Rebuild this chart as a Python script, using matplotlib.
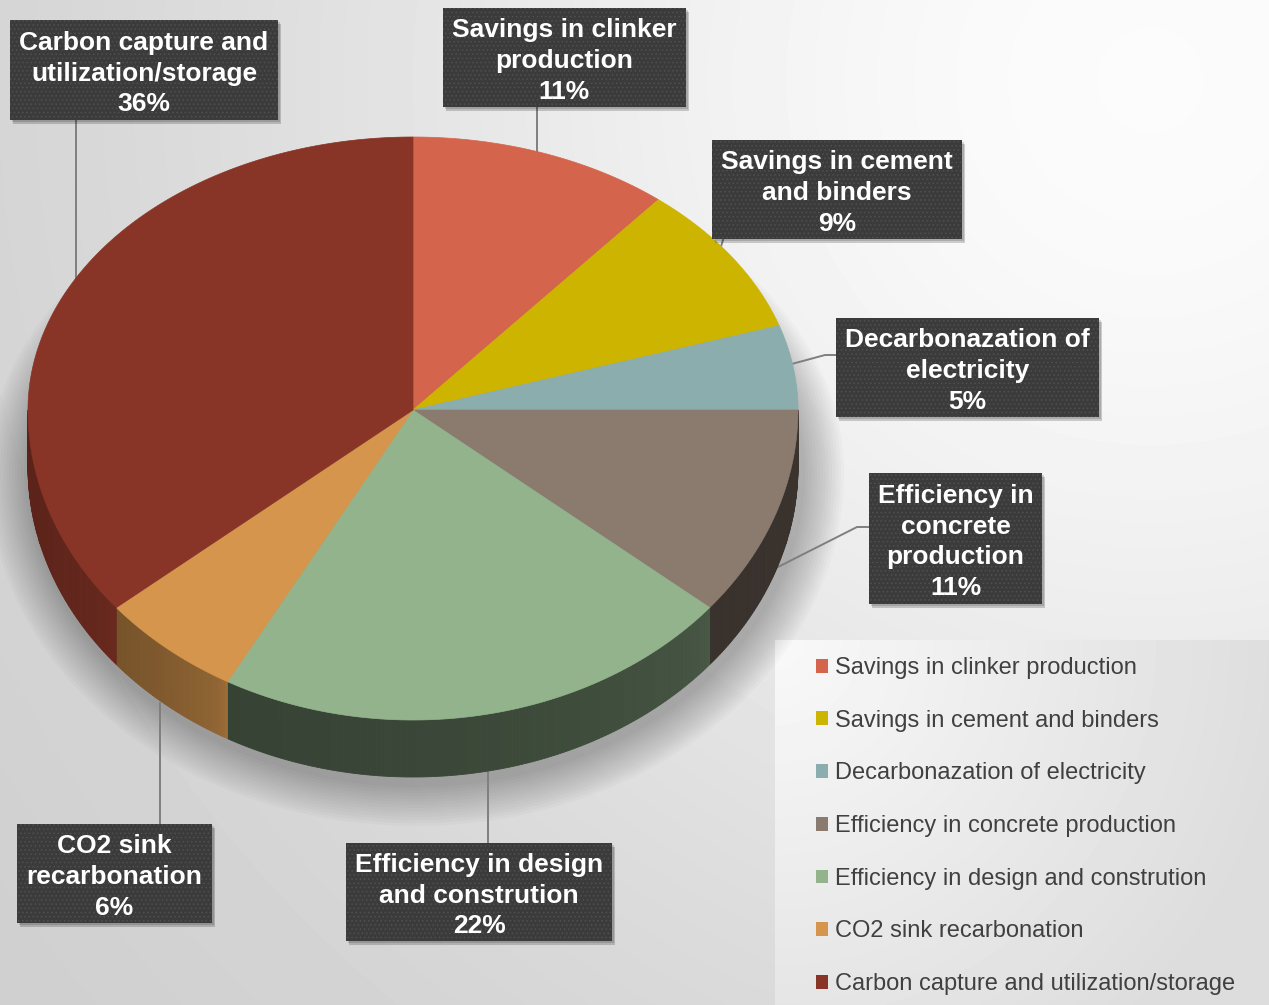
import numpy as np
import matplotlib
matplotlib.use('Agg')
from matplotlib import pyplot as plt
from matplotlib.patches import Polygon, Rectangle

# slices, clockwise from 12 o'clock
names = ['Savings in clinker production', 'Savings in cement and binders',
         'Decarbonazation of electricity', 'Efficiency in concrete production',
         'Efficiency in design and constrution', 'CO2 sink recarbonation',
         'Carbon capture and utilization/storage']
values = [11, 9, 5, 11, 22, 6, 36]
box_names = ['Savings in clinker\nproduction', 'Savings in cement\nand binders',
             'Decarbonazation of\nelectricity', 'Efficiency in\nconcrete\nproduction',
             'Efficiency in design\nand constrution', 'CO2 sink\nrecarbonation',
             'Carbon capture and\nutilization/storage']

colors = ['#d4654c', '#cdb400', '#8badae', '#8b7a6e', '#93b38d', '#d5954c', '#883426']
# rim shading (start, end) as a fraction of the top colour
rim_shade = [(0.7, 0.6), (0.7, 0.6), (0.7, 0.6), (0.43, 0.40),
             (0.50, 0.37), (0.73, 0.56), (0.79, 0.66)]

# label boxes (x0, y0, x1, y1) and leader lines, pixels
boxes = [(443, 8, 686, 107), (712, 140, 962, 239), (836, 318, 1099, 417),
         (869, 473, 1042, 604), (346, 843, 612, 941), (17, 824, 212, 923),
         (10, 20, 278, 120)]
leaders = [[(537, 107), (537, 152)],
           [(723, 240), (719, 253)],
           [(836, 355), (825, 355), (788, 365)],
           [(869, 527), (857, 527), (776, 568)],
           [(488, 843), (488, 772)],
           [(160, 824), (160, 703)],
           [(76, 120), (76, 300)]]

W, H = 1269, 1005
cx, cy = 413, 410
rx, ry_top, ry_bot = 385, 273, 310
depth = 57


def rim(theta, grow=0.0, dy=0.0):
    t = np.radians(theta)
    s = np.sin(t)
    ry = np.where(s > 0, ry_top, ry_bot) + grow
    return cx + (rx + grow) * np.cos(t), cy + dy - ry * s


def shade(c, f):
    rgb = np.array(matplotlib.colors.to_rgb(c))
    return tuple(rgb * f)


fig = plt.figure(figsize=(W / 100, H / 100), dpi=100)
ax = fig.add_axes([0, 0, 1, 1])
ax.set_xlim(0, W)
ax.set_ylim(H, 0)
ax.axis('off')

# background: light gray, brighter towards the upper right
yy, xx = np.mgrid[0:H, 0:W]
dist = np.hypot(xx - 1150, yy - 80)
bg = 0.80 + 0.185 * np.exp(-(dist / 900.0) ** 2)
panel = (xx >= 775) & (yy >= 640)
pg = 0.975 - 0.11 * np.clip(np.hypot(xx - 775, yy - 640) / 520, 0, 1)
bg = np.where(panel, pg, bg)
ax.imshow(bg, cmap='gray', vmin=0, vmax=1, extent=[0, W, H, 0], zorder=0,
          interpolation='bilinear')

# soft shadow below the pie
ang = np.linspace(0, 360, 361)
for k in range(14):
    sx, sy = rim(ang, grow=4 + 3 * k, dy=depth + 6)
    ax.add_patch(Polygon(np.column_stack([sx + 3, sy]), closed=True,
                         fc='black', ec='none', alpha=0.018, zorder=1))

# leader lines
for pts in leaders:
    pts = np.array(pts)
    ax.plot(pts[:, 0], pts[:, 1], color='#7f7f7f', lw=1.4, zorder=2)

# angles of the slices
starts = 90 - 3.6 * np.concatenate([[0], np.cumsum(values)[:-1]])
ends = starts - 3.6 * np.array(values)

# rim (front half only)
for i in range(len(values)):
    a0 = min(starts[i], 0)
    a1 = max(ends[i], -180)
    if a0 <= a1:
        continue
    n = int((a0 - a1) * 2) + 2
    aa = np.linspace(a0, a1, n)
    f0, f1 = rim_shade[i]
    for j in range(n - 1):
        t = j / max(n - 2, 1)
        f = f0 + (f1 - f0) * t ** 0.5
        xa, ya = rim(aa[j:j + 2])
        quad = [(xa[0], ya[0]), (xa[1], ya[1]), (xa[1], ya[1] + depth), (xa[0], ya[0] + depth)]
        c = shade(colors[i], f)
        ax.add_patch(Polygon(quad, closed=True, fc=c, ec=c, lw=0.6, zorder=3))

# top faces
handles = []
for i in range(len(values)):
    aa = np.linspace(starts[i], ends[i], int(values[i] * 8) + 2)
    xa, ya = rim(aa)
    pts = np.vstack([[cx, cy], np.column_stack([xa, ya])])
    p = Polygon(pts, closed=True, fc=colors[i], ec=colors[i], lw=0.5, zorder=4)
    ax.add_patch(p)
    handles.append(Rectangle((0, 0), 1, 1, fc=colors[i], ec='none'))

# data label boxes
plt.rcParams['hatch.linewidth'] = 0.6
pitch = 30.7
for i in range(len(values)):
    x0, y0, x1, y1 = boxes[i]
    ax.add_patch(Rectangle((x0 + 3, y0 + 4), x1 - x0, y1 - y0, fc='black', ec='none',
                           alpha=0.18, zorder=5))
    ax.add_patch(Rectangle((x0 + 1.5, y0 + 2), x1 - x0, y1 - y0, fc='black', ec='none',
                           alpha=0.15, zorder=5))
    ax.add_patch(Rectangle((x0, y0), x1 - x0, y1 - y0, fc='#3b3b3b', ec='none', zorder=6))
    ax.add_patch(Rectangle((x0, y0), x1 - x0, y1 - y0, fc='none', ec='#505050', lw=0,
                           hatch='....', zorder=6))
    lines = box_names[i].split('\n') + ['%d%%' % values[i]]
    mid = (y0 + y1) / 2 + 1
    for k, s in enumerate(lines):
        yc = mid + pitch * (k - (len(lines) - 1) / 2)
        ax.text((x0 + x1) / 2, yc + 9.5, s, ha='center', va='baseline', color='white',
                fontsize=19, fontweight='bold', family='Liberation Sans', zorder=7)

# legend
leg = ax.legend(handles, names, loc='upper left', bbox_to_anchor=(816, 657),
                bbox_transform=ax.transData, frameon=False,
                prop={'family': 'Liberation Sans', 'size': 17}, labelcolor='#404040',
                handlelength=0.52, handleheight=0.52, handletextpad=0.3,
                labelspacing=1.3, borderpad=0, borderaxespad=0)
leg.set_zorder(8)

fig.savefig('out.png', dpi=100)
